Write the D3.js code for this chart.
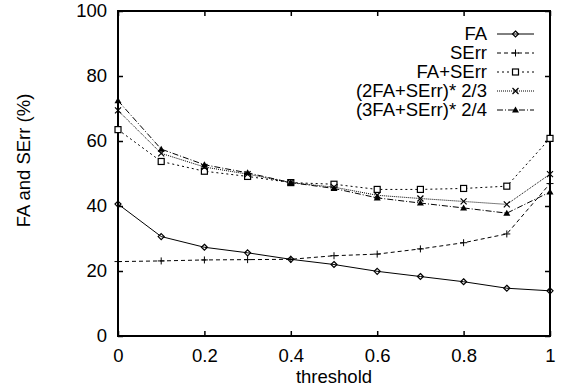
<!DOCTYPE html>
<html>
<head>
<meta charset="utf-8">
<script src="https://cdn.jsdelivr.net/npm/d3@7"></script>
<style>
  body { margin: 0; background: #fff; }
  text { font-family: "Liberation Sans", Arial, sans-serif; fill: #000; }
</style>
</head>
<body>
<div id="chart"></div>
<script>
// thresholds on the x axis
const thresholds = [0, 0.1, 0.2, 0.3, 0.4, 0.5, 0.6, 0.7, 0.8, 0.9, 1];

// series values (%)
const faValues      = [40.6, 30.6, 27.3, 25.6, 23.6, 22.0, 19.9, 18.3, 16.7, 14.7, 13.9];
const serrValues    = [22.9, 23.1, 23.4, 23.5, 23.6, 24.7, 25.2, 26.8, 28.7, 31.4, 46.9];
const sumValues     = [63.5, 53.7, 50.7, 49.1, 47.2, 46.7, 45.1, 45.1, 45.4, 46.1, 60.8];
const twoFaValues   = [69.4, 56.2, 52.0, 49.8, 47.2, 45.8, 43.3, 42.3, 41.4, 40.5, 49.8];
const threeFaValues = [72.4, 57.5, 52.7, 50.2, 47.2, 45.4, 42.5, 40.9, 39.4, 37.8, 44.3];

const seriesNames = ['FA', 'SErr', 'FA+SErr', '(2FA+SErr)* 2/3', '(3FA+SErr)* 2/4'];
const xTicks = [0, 0.2, 0.4, 0.6, 0.8, 1];
const yTicks = [0, 20, 40, 60, 80, 100];

const W = 561, H = 387;
const margin = { top: 11, right: 11, bottom: 51, left: 118 };
const width = W - margin.left - margin.right;
const height = H - margin.top - margin.bottom;
const fontSize = '18.5px';

const series = [
    { name: seriesNames[0], values: faValues,      dash: null,      marker: 'diamond' },
    { name: seriesNames[1], values: serrValues,    dash: '4,3',     marker: 'plus' },
    { name: seriesNames[2], values: sumValues,     dash: '2,3',     marker: 'square' },
    { name: seriesNames[3], values: twoFaValues,   dash: '1,1',     marker: 'cross' },
    { name: seriesNames[4], values: threeFaValues, dash: '6,2,1,2', marker: 'triangle' }
];

const x = d3.scaleLinear().domain([0, 1]).range([0, width]);
const y = d3.scaleLinear().domain([0, 100]).range([height, 0]);

const svg = d3.select('#chart').append('svg')
    .attr('width', W).attr('height', H)
    .append('g')
    .attr('transform', `translate(${margin.left},${margin.top})`);

// inward ticks on all four sides, gnuplot style
const tick = 5;
svg.append('g').attr('transform', `translate(0,${height})`)
    .call(d3.axisBottom(x).tickValues(xTicks).tickSize(-tick).tickPadding(0)
        .tickFormat(d => d3.format('')(+d.toFixed(1))))
    .call(g => g.select('.domain').remove())
    .selectAll('text').attr('y', 20).attr('dy', '0.35em').style('font-size', fontSize);
svg.append('g')
    .call(d3.axisTop(x).tickValues(xTicks).tickSize(-tick).tickFormat(''))
    .call(g => g.select('.domain').remove());
svg.append('g')
    .call(d3.axisLeft(y).tickValues(yTicks).tickSize(-tick).tickPadding(0))
    .call(g => g.select('.domain').remove())
    .selectAll('text').attr('x', -11).style('font-size', fontSize);
svg.append('g').attr('transform', `translate(${width},0)`)
    .call(d3.axisRight(y).tickValues(yTicks).tickSize(-tick).tickFormat(''))
    .call(g => g.select('.domain').remove());
svg.selectAll('.tick line').attr('stroke', '#000').attr('stroke-width', 1.5);

// frame
svg.append('rect')
    .attr('x', 0).attr('y', 0).attr('width', width).attr('height', height)
    .attr('fill', 'none').attr('stroke', '#000').attr('stroke-width', 2);

// axis titles
svg.append('text')
    .attr('x', width / 2).attr('y', height + 41)
    .attr('text-anchor', 'middle').attr('dy', '0.35em').style('font-size', fontSize)
    .text('threshold');
svg.append('text')
    .attr('transform', `translate(${24 - margin.left},${height / 2 - 13}) rotate(-90)`)
    .attr('text-anchor', 'middle').attr('dy', '0.35em').style('font-size', fontSize)
    .text('FA and SErr (%)');

function drawMarker(g, type, cx, cy) {
    if (type === 'diamond') {
        g.append('path').attr('d', `M${cx},${cy - 3}L${cx + 3},${cy}L${cx},${cy + 3}L${cx - 3},${cy}Z`)
            .attr('fill', 'none').attr('stroke', '#000').attr('stroke-width', 1.2);
    } else if (type === 'plus') {
        g.append('path').attr('d', `M${cx - 3.5},${cy}H${cx + 3.5}M${cx},${cy - 3.5}V${cy + 3.5}`)
            .attr('stroke', '#000').attr('stroke-width', 1);
    } else if (type === 'square') {
        g.append('rect').attr('x', cx - 3).attr('y', cy - 3).attr('width', 6).attr('height', 6)
            .attr('fill', '#fff').attr('stroke', '#000').attr('stroke-width', 1.2);
    } else if (type === 'cross') {
        g.append('path').attr('d', `M${cx - 3},${cy - 3}L${cx + 3},${cy + 3}M${cx - 3},${cy + 3}L${cx + 3},${cy - 3}`)
            .attr('stroke', '#000').attr('stroke-width', 1.2);
    } else if (type === 'triangle') {
        g.append('path').attr('d', `M${cx},${cy - 3.5}L${cx + 3.5},${cy + 2.5}L${cx - 3.5},${cy + 2.5}Z`)
            .attr('fill', '#000');
    }
}

const line = d3.line()
    .x((d, i) => x(thresholds[i]))
    .y(d => y(d));

series.forEach(s => {
    svg.append('path')
        .datum(s.values)
        .attr('fill', 'none')
        .attr('stroke', '#000')
        .attr('stroke-width', 1)
        .attr('stroke-dasharray', s.dash)
        .attr('d', line);
    const mg = svg.append('g');
    s.values.forEach((v, i) => drawMarker(mg, s.marker, x(thresholds[i]), y(v)));
});

// legend, top right
const legend = svg.append('g').attr('transform', `translate(${width - 16}, 23)`);
series.forEach((s, i) => {
    const item = legend.append('g').attr('transform', `translate(0, ${i * 19})`);
    item.append('line').attr('x1', -37).attr('x2', 0).attr('y1', 0).attr('y2', 0)
        .attr('stroke', '#000').attr('stroke-width', 1).attr('stroke-dasharray', s.dash);
    drawMarker(item, s.marker, -18.5, 0);
    item.append('text').attr('x', -47).attr('y', 0).attr('dy', '0.35em')
        .attr('text-anchor', 'end').style('font-size', fontSize)
        .text(s.name);
});
</script>
</body>
</html>
